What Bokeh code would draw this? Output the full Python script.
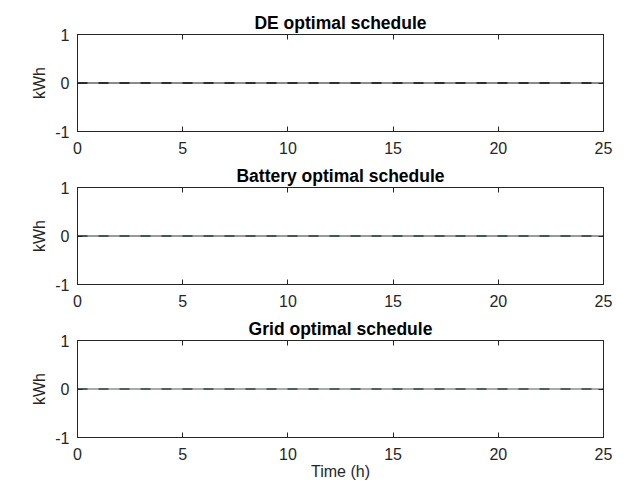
from bokeh.plotting import figure
from bokeh.layouts import column
from bokeh.models import LinearAxis, FixedTicker, Range1d
from bokeh.embed import file_html
from bokeh.resources import INLINE

hours = [0, 1, 2, 3, 4, 5, 6, 7, 8, 9, 10, 11, 12, 13, 14, 15, 16, 17, 18, 19, 20, 21, 22, 23, 24, 25]
de_schedule = [0, 0, 0, 0, 0, 0, 0, 0, 0, 0, 0, 0, 0, 0, 0, 0, 0, 0, 0, 0, 0, 0, 0, 0, 0, 0]
de_reference = [0, 0, 0, 0, 0, 0, 0, 0, 0, 0, 0, 0, 0, 0, 0, 0, 0, 0, 0, 0, 0, 0, 0, 0, 0, 0]
battery_schedule = [0, 0, 0, 0, 0, 0, 0, 0, 0, 0, 0, 0, 0, 0, 0, 0, 0, 0, 0, 0, 0, 0, 0, 0, 0, 0]
battery_reference = [0, 0, 0, 0, 0, 0, 0, 0, 0, 0, 0, 0, 0, 0, 0, 0, 0, 0, 0, 0, 0, 0, 0, 0, 0, 0]
grid_schedule = [0, 0, 0, 0, 0, 0, 0, 0, 0, 0, 0, 0, 0, 0, 0, 0, 0, 0, 0, 0, 0, 0, 0, 0, 0, 0]
grid_reference = [0, 0, 0, 0, 0, 0, 0, 0, 0, 0, 0, 0, 0, 0, 0, 0, 0, 0, 0, 0, 0, 0, 0, 0, 0, 0]

titles = ["DE optimal schedule", "Battery optimal schedule", "Grid optimal schedule"]
x_ticks = [0, 5, 10, 15, 20, 25]
y_ticks = [-1, 0, 1]
y_tick_labels = ["-1", "0", "1"]

FONT = "Liberation Sans"
DARK = "#262626"

panels = [
    (titles[0], de_reference, de_schedule, "#666666", "#111111"),
    (titles[1], battery_reference, battery_schedule, "#7a7a7a", "#2b3f3f"),
    (titles[2], grid_reference, grid_schedule, "#8e8e8e", "#2e4a48"),
]

figs = []
for i, (title, ref, sched, solid_col, dash_col) in enumerate(panels):
    first = i == 0
    last = i == len(panels) - 1
    p = figure(
        output_backend="svg", toolbar_location=None,
        frame_width=526, frame_height=97,
        min_border_left=77, min_border_right=16,
        min_border_top=34 if first else 26, min_border_bottom=44 if last else 30,
        x_range=Range1d(0, 25), y_range=Range1d(-1, 1),
        title=title,
    )
    p.title.align = "center"
    p.title.text_font = FONT
    p.title.text_font_size = "17.5px"
    p.title.text_font_style = "bold"
    p.title.text_color = "#000000"
    p.title.standoff = 3
    p.grid.visible = False
    p.outline_line_color = DARK
    p.outline_line_alpha = 1.0
    p.background_fill_color = "white"
    p.border_fill_color = "white"

    p.line(hours, ref, line_color=solid_col, line_width=1.5)
    p.line(hours, sched, line_color=dash_col, line_width=1.5, line_dash="10 11")

    for ax in (p.xaxis[0], p.yaxis[0]):
        ax.major_tick_in = 5
        ax.major_tick_out = 0
        ax.minor_tick_line_color = None
        ax.axis_line_color = DARK
        ax.major_tick_line_color = DARK
        ax.major_label_text_font = FONT
        ax.major_label_text_font_size = "16px"
        ax.major_label_text_color = DARK
        ax.axis_label_text_font = FONT
        ax.axis_label_text_font_size = "16px"
        ax.axis_label_text_font_style = "normal"
        ax.axis_label_text_color = DARK
    p.xaxis[0].ticker = FixedTicker(ticks=x_ticks)
    p.yaxis[0].ticker = FixedTicker(ticks=y_ticks)
    p.yaxis[0].major_label_overrides = dict(zip(y_ticks, y_tick_labels))
    p.xaxis[0].major_label_standoff = 10
    p.yaxis[0].major_label_standoff = 8
    p.yaxis[0].axis_label = "kWh"
    p.yaxis[0].axis_label_standoff = 4
    if last:
        p.xaxis[0].axis_label = "Time (h)"
        p.xaxis[0].axis_label_standoff = 0

    top = LinearAxis(ticker=FixedTicker(ticks=x_ticks),
                     major_label_overrides={t: "" for t in x_ticks})
    right = LinearAxis(ticker=FixedTicker(ticks=y_ticks),
                       major_label_overrides={t: "" for t in y_ticks})
    for ax in (top, right):
        ax.major_tick_in = 5
        ax.major_tick_out = 0
        ax.minor_tick_line_color = None
        ax.axis_line_color = DARK
        ax.major_tick_line_color = DARK
        ax.major_label_standoff = 0
    p.add_layout(top, "above")
    p.add_layout(right, "right")
    figs.append(p)

layout = column(*figs, spacing=0)
open("out.html", "w").write(file_html(layout, INLINE))
